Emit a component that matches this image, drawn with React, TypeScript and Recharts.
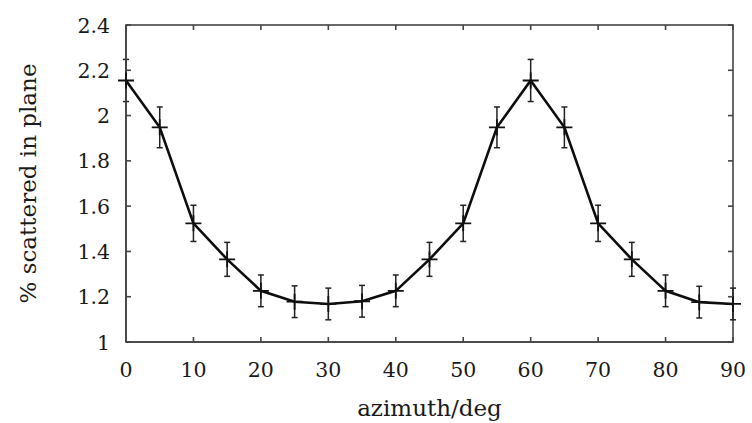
import React from 'react';
import { LineChart, Line, XAxis, YAxis, ErrorBar } from 'recharts';

const azimuth = [0, 5, 10, 15, 20, 25, 30, 35, 40, 45, 50, 55, 60, 65, 70, 75, 80, 85, 90];
const scattered = [2.155, 1.948, 1.524, 1.365, 1.226, 1.178, 1.168, 1.18, 1.226, 1.365, 1.524, 1.948, 2.155, 1.948, 1.524, 1.365, 1.226, 1.176, 1.168];
const errors = [0.093, 0.09, 0.08, 0.075, 0.07, 0.07, 0.07, 0.07, 0.07, 0.075, 0.08, 0.09, 0.093, 0.09, 0.08, 0.075, 0.07, 0.07, 0.07];
const xTicks = [0, 10, 20, 30, 40, 50, 60, 70, 80, 90];
const yTicks = [1, 1.2, 1.4, 1.6, 1.8, 2, 2.2, 2.4];
const X_MIN = 0;
const X_MAX = 90;
const Y_MIN = 1;
const Y_MAX = 2.4;

const data = azimuth.map((a, i) => ({ a, v: scattered[i], err: errors[i] }));

const FONT = '"DejaVu Serif", serif';
const TEXT = '#1a1a1a';
const FRAME = '#444444';
const TL = 5;

const W = 752;
const H = 423;
const M = { top: 25, right: 19, bottom: 0, left: 0 };
const Y_AXIS_W = 126;
const X_AXIS_H = 81;
const PLOT = {
  x: M.left + Y_AXIS_W,
  y: M.top,
  w: W - M.left - M.right - Y_AXIS_W,
  h: H - M.top - M.bottom - X_AXIS_H,
};

const BottomTick = (p: any) => {
  const { x, y, payload } = p;
  return (
    <g>
      <path d={`M${x},${y}L${x},${y - TL}`} stroke={FRAME} strokeWidth={1.6} fill="none" />
      <path d={`M${x},${PLOT.y}L${x},${PLOT.y + TL}`} stroke={FRAME} strokeWidth={1.6} fill="none" />
      <text x={x} y={y + 35} textAnchor="middle" fontFamily={FONT} fontSize={20.5} fill={TEXT}>
        {payload.value}
      </text>
    </g>
  );
};
const LeftTick = (p: any) => {
  const { x, y, payload } = p;
  return (
    <g>
      <path d={`M${x},${y}L${x + TL},${y}`} stroke={FRAME} strokeWidth={1.6} fill="none" />
      <path d={`M${PLOT.x + PLOT.w},${y}L${PLOT.x + PLOT.w - TL},${y}`} stroke={FRAME} strokeWidth={1.6} fill="none" />
      <text x={x - 16} y={y + 7.5} textAnchor="end" fontFamily={FONT} fontSize={20.5} fill={TEXT}>
        {String(payload.value)}
      </text>
    </g>
  );
};

const PlusDot = (p: any) => {
  const { cx, cy, index } = p;
  if (cx == null || cy == null) return <g key={`d${index}`} />;
  return (
    <path
      key={`d${index}`}
      d={`M${cx - 8},${cy}H${cx + 8}M${cx},${cy - 8}V${cy + 8}`}
      stroke="#111111"
      strokeWidth={1.8}
      fill="none"
    />
  );
};

const YLabel = () => (
  <text
    x={36}
    y={183.5}
    transform="rotate(-90, 36, 183.5)"
    textAnchor="middle"
    fontFamily={FONT}
    fontSize={23}
    fill={TEXT}
  >
    % scattered in plane
  </text>
);

export default function App() {
  return (
    <div style={{ position: 'absolute', left: 0, top: 0, width: W, height: H, background: '#ffffff' }}>
      <LineChart width={W} height={H} data={data} margin={M}>
        <rect
          x={PLOT.x}
          y={PLOT.y}
          width={PLOT.w}
          height={PLOT.h}
          fill="none"
          stroke={FRAME}
          strokeWidth={1.6}
        />
        <XAxis
          dataKey="a"
          type="number"
          domain={[X_MIN, X_MAX]}
          ticks={xTicks}
          height={X_AXIS_H}
          tickSize={0}
          tickMargin={0}
          tickLine={false}
          axisLine={{ stroke: FRAME, strokeWidth: 1.6 }}
          tick={<BottomTick />}
          interval={0}
          label={{ value: 'azimuth/deg', position: 'insideBottom', offset: 7, fontFamily: FONT, fontSize: 23, fill: TEXT }}
        />
        <YAxis
          type="number"
          domain={[Y_MIN, Y_MAX]}
          ticks={yTicks}
          width={Y_AXIS_W}
          tickSize={0}
          tickMargin={0}
          tickLine={false}
          axisLine={{ stroke: FRAME, strokeWidth: 1.6 }}
          tick={<LeftTick />}
          interval={0}
          label={{ content: <YLabel /> }}
        />
        <Line
          dataKey="v"
          type="linear"
          stroke="#0d0d0d"
          strokeWidth={2.6}
          dot={PlusDot}
          activeDot={false}
          isAnimationActive={false}
        >
          <ErrorBar dataKey="err" direction="y" width={3} stroke="#222222" strokeWidth={1.5} />
        </Line>
      </LineChart>
    </div>
  );
}
